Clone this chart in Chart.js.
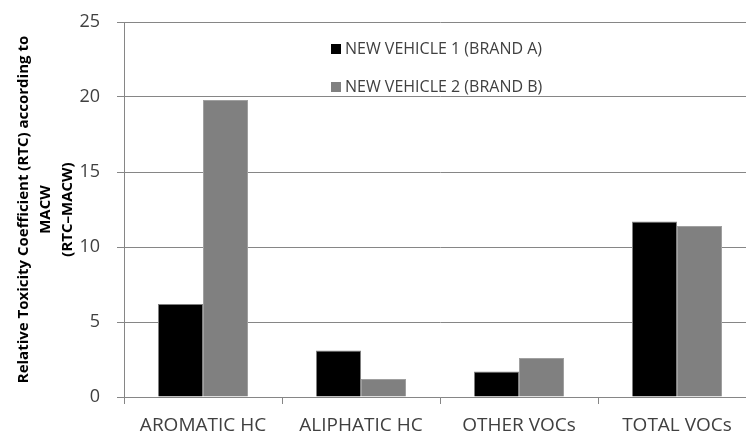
<!DOCTYPE html>
<html>
<head>
<meta charset="utf-8">
<script src="https://cdn.jsdelivr.net/npm/chart.js@4/dist/chart.umd.min.js"></script>
<style>
  html, body { margin: 0; padding: 0; background: #fff; overflow: hidden; }
  #wrap { width: 756px; height: 436px; }
</style>
</head>
<body>
<div id="wrap"><canvas id="myChart"></canvas></div>
<script>
// data
const categories = ['AROMATIC HC', 'ALIPHATIC HC', 'OTHER VOCs', 'TOTAL VOCs'];
const vehicle1 = [6.2, 3.1, 1.7, 11.7];
const vehicle2 = [19.8, 1.2, 2.6, 11.4];
const seriesNames = ['NEW VEHICLE 1 (BRAND A)', 'NEW VEHICLE 2 (BRAND B)'];
const yTicks = [0, 5, 10, 15, 20, 25];

const fontFamily = "'Open Sans', 'Liberation Sans', sans-serif";

// legend sits inside the plot, like the original
const insideLegend = {
    id: 'insideLegend',
    afterDraw(chart) {
        const ctx = chart.ctx;
        ctx.save();
        ctx.font = '16px ' + fontFamily;
        ctx.textBaseline = 'middle';
        chart.data.datasets.forEach((ds, i) => {
            const y = 49 + i * 38;
            ctx.fillStyle = ds.backgroundColor;
            ctx.fillRect(331, y - 5, 10, 10);
            ctx.fillStyle = '#404040';
            ctx.fillText(ds.label, 345, y);
        });
        ctx.restore();
    }
};

const ctx = document.getElementById('myChart').getContext('2d');
let myChart = new Chart(ctx, {
    type: 'bar',
    data: {
        labels: categories,
        datasets: [{
            label: seriesNames[0],
            data: vehicle1,
            backgroundColor: '#000000',
            borderColor: '#7f7f7f',
            borderWidth: 1
        }, {
            label: seriesNames[1],
            data: vehicle2,
            backgroundColor: '#808080',
            borderColor: '#a0a0a0',
            borderWidth: 1
        }]
    },
    options: {
        responsive: true,
        maintainAspectRatio: false,
        animation: false,
        layout: { padding: { top: 22, left: 9, right: 0, bottom: 0 } },
        plugins: {
            legend: { display: false },
            tooltip: { enabled: false }
        },
        datasets: {
            bar: { categoryPercentage: 0.57, barPercentage: 1.0 }
        },
        scales: {
            x: {
                afterFit(axis) { axis.height = 39; },
                grid: {
                    offset: true,
                    drawOnChartArea: false,
                    tickLength: 7,
                    color: '#868686'
                },
                border: { color: '#868686' },
                ticks: {
                    color: '#404040',
                    font: { family: fontFamily, size: 19 },
                    padding: 10
                }
            },
            y: {
                min: 0,
                max: 25,
                afterFit(axis) {
                    axis.width = 115;
                    axis.paddingTop = 0;
                    axis.paddingBottom = 0;
                },
                afterBuildTicks(axis) {
                    axis.ticks = yTicks.map(v => ({ value: v }));
                },
                grid: { color: '#868686', tickLength: 7 },
                border: { color: '#868686' },
                ticks: {
                    color: '#404040',
                    font: { family: fontFamily, size: 18 },
                    padding: 17
                },
                title: {
                    display: true,
                    text: ['Relative Toxicity Coefficient (RTC) according to', 'MACW', '(RTC\u2013MACW)'],
                    color: '#000000',
                    font: { family: fontFamily, size: 15, weight: 'bold', lineHeight: 1.45 },
                    padding: { top: 4, bottom: 4 }
                }
            }
        }
    },
    plugins: [insideLegend]
});
</script>
</body>
</html>
